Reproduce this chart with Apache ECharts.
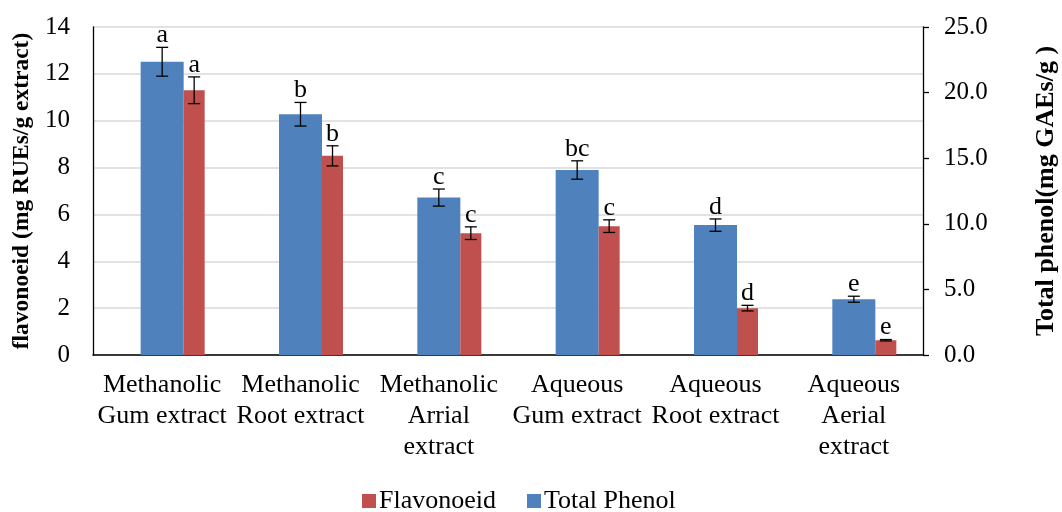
<!DOCTYPE html>
<html>
<head>
<meta charset="utf-8">
<script src="https://cdn.jsdelivr.net/npm/echarts@6/dist/echarts.min.js"></script>
<style>html,body{margin:0;padding:0;background:#fff}#c{width:1062px;height:512px}</style>
</head>
<body>
<div id="c"></div>
<script>
const categories = ['Methanolic\nGum extract','Methanolic\nRoot extract','Methanolic\nArrial\nextract','Aqueous\nGum extract','Aqueous\nRoot extract','Aqueous\nAerial\nextract'];
const phenolValues = [22.35, 18.35, 12.0, 14.1, 9.9, 4.25];
const phenolErrors = [1.1, 0.9, 0.65, 0.7, 0.47, 0.23];
const phenolLetters = ['a','b','c','bc','d','e'];
const flavValues = [11.3, 8.5, 5.2, 5.5, 2.0, 0.63];
const flavErrors = [0.57, 0.43, 0.27, 0.27, 0.12, 0.03];
const flavLetters = ['a','b','c','c','d','e'];
const leftTicks = {min:0, max:14, interval:2};
const rightTicks = {min:0, max:25, interval:5};

const FONT = '"Liberation Serif", "DejaVu Serif", serif';
const BLUE = '#4f81bd', RED = '#c0504d';
const BLUE_W = 43, RED_W = 21;

function errSeries(vals, errs, letters, yIdx, dx){
  return {
    type:'custom', xAxisIndex:0, yAxisIndex:yIdx, z:5, silent:true,
    encode:{x:0, y:1},
    data: vals.map((v,i)=>[i, v, errs[i]]),
    renderItem: function(params, api){
      const i = api.value(0), v = api.value(1), e = api.value(2);
      const lt = letters[params.dataIndex];
      const top = api.coord([i, v+e]);
      const bot = api.coord([i, v-e]);
      const x = top[0] + dx;
      const st = {stroke:'#000', lineWidth:1.3};
      return {type:'group', children:[
        {type:'line', shape:{x1:x, y1:top[1], x2:x, y2:bot[1]}, style:st},
        {type:'line', shape:{x1:x-6, y1:top[1], x2:x+6, y2:top[1]}, style:st},
        {type:'line', shape:{x1:x-6, y1:bot[1], x2:x+6, y2:bot[1]}, style:st},
        {type:'text', x:x, y:top[1]+1, style:{text:lt, fill:'#000', font:'26px '+FONT, align:'center', verticalAlign:'bottom'}}
      ]};
    }
  };
}

const chart = echarts.init(document.getElementById('c'), null, {renderer:'canvas'});
chart.setOption({
  animation:false,
  backgroundColor:'#fff',
  textStyle:{fontFamily:FONT, color:'#000'},
  grid:{left:93, right:139, top:27, bottom:157, containLabel:false, outerBoundsMode:'none'},
  legend:{
    data:['Flavonoeid','Total Phenol'], left:357, top:483,
    itemWidth:14, itemHeight:14, itemGap:31, icon:'rect',
    textStyle:{fontFamily:FONT, fontSize:26, color:'#000', padding:[0,0,0,-2]}
  },
  xAxis:{
    type:'category', data:categories,
    axisLine:{show:true, lineStyle:{color:'#000', width:1.5}},
    axisTick:{show:false},
    axisLabel:{interval:0, fontFamily:FONT, fontSize:26, color:'#000', lineHeight:31, margin:15}
  },
  yAxis:[
    {type:'value', min:leftTicks.min, max:leftTicks.max, interval:leftTicks.interval,
     name:'flavonoeid (mg RUEs/g extract)', nameLocation:'middle', nameGap:54,
     nameTextStyle:{fontFamily:FONT, fontSize:23.5, fontWeight:'bold', color:'#000'},
     axisLine:{show:true, lineStyle:{color:'#000', width:1.3}},
     axisTick:{show:false},
     axisLabel:{fontFamily:FONT, fontSize:25, color:'#000', margin:23},
     splitLine:{show:true, lineStyle:{color:'#d9d9d9', width:1.5}}
    },
    {type:'value', min:rightTicks.min, max:rightTicks.max, interval:rightTicks.interval, position:'right',
     name:'Total phenol(mg GAEs/g )', nameLocation:'middle', nameGap:110,
     nameTextStyle:{fontFamily:FONT, fontSize:26, fontWeight:'bold', color:'#000'},
     axisLine:{show:true, lineStyle:{color:'#000', width:1.3}},
     axisTick:{show:true, inside:false, length:6, lineStyle:{color:'#000', width:1.3}},
     axisLabel:{fontFamily:FONT, fontSize:25, color:'#000', margin:21, formatter:v=>v.toFixed(1)},
     splitLine:{show:false}
    }
  ],
  series:[
    {name:'_spacer', type:'bar', yAxisIndex:0, barWidth:RED_W, barGap:'0%', data:categories.map(()=>null), silent:true},
    {name:'Total Phenol', type:'bar', yAxisIndex:1, barWidth:BLUE_W, barGap:'0%', data:phenolValues, itemStyle:{color:BLUE}},
    {name:'Flavonoeid', type:'bar', yAxisIndex:0, barWidth:RED_W, barGap:'0%', data:flavValues, itemStyle:{color:RED}},
    errSeries(phenolValues, phenolErrors, phenolLetters, 1, 0),
    errSeries(flavValues, flavErrors, flavLetters, 0, (BLUE_W+RED_W)/2)
  ]
});
</script>
</body>
</html>
